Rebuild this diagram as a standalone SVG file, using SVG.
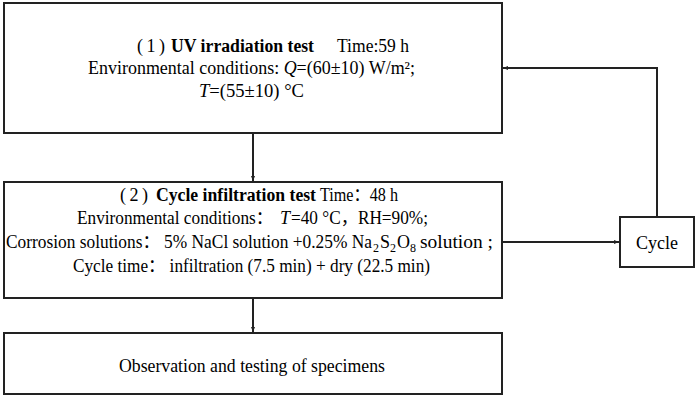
<svg xmlns="http://www.w3.org/2000/svg" width="700" height="399" viewBox="0 0 700 399">
<style>
.box{fill:#fff;stroke:#222;stroke-width:2}
.ln{fill:none;stroke:#222;stroke-width:2}
.t{font-family:"Liberation Serif","Noto Sans CJK SC",serif;font-size:18px;fill:#000}
.b{font-weight:bold}
.i{font-style:italic}
.s{font-size:12px}
</style>
<defs>
<marker id="ah" viewBox="0 0 10 10" refX="10" refY="5" markerWidth="5" markerHeight="5" orient="auto" markerUnits="userSpaceOnUse">
<path d="M0,1 L10,5 L0,9 Z" fill="#222"/>
</marker>
</defs>
<rect width="700" height="399" fill="#fff"/>
<g id="connectors">
<line class="ln" x1="253" y1="133" x2="253" y2="181" marker-end="url(#ah)"/>
<line class="ln" x1="253" y1="298" x2="253" y2="332" marker-end="url(#ah)"/>
<line class="ln" x1="502" y1="242" x2="619" y2="242" marker-end="url(#ah)"/>
<polyline class="ln" points="657,217 657,68 503,68" marker-end="url(#ah)"/>
</g>
<g id="uv">
<rect class="box" x="4" y="3" width="498" height="130"/>
<text class="t" x="137" y="52" textLength="28" lengthAdjust="spacing">(1)</text>
<text class="t b" x="171" y="52" textLength="143" lengthAdjust="spacingAndGlyphs">UV irradiation test</text>
<text class="t" x="337" y="52" textLength="72" lengthAdjust="spacingAndGlyphs">Time:59 h</text>
<text class="t" x="88" y="74" textLength="327" lengthAdjust="spacingAndGlyphs">Environmental conditions: <tspan class="i">Q</tspan>=(60±10) W/m²;</text>
<text class="t" x="199" y="97" textLength="105" lengthAdjust="spacingAndGlyphs"><tspan class="i">T</tspan>=(55±10) °C</text>
</g>
<g id="cycle-infiltration">
<rect class="box" x="4" y="182" width="498" height="116"/>
<text class="t" x="120" y="201" textLength="28" lengthAdjust="spacing">(2)</text>
<text class="t b" x="156" y="201" textLength="160" lengthAdjust="spacingAndGlyphs">Cycle infiltration test</text>
<text class="t" x="320" y="201" textLength="78" lengthAdjust="spacingAndGlyphs">Time：48 h</text>
<text class="t" x="77" y="224" textLength="196" lengthAdjust="spacingAndGlyphs">Environmental conditions：</text>
<text class="t i" x="280" y="224">T</text>
<text class="t" x="291" y="224" textLength="137" lengthAdjust="spacingAndGlyphs">=40 °C，RH=90%;</text>
<text class="t" x="6" y="248" textLength="366" lengthAdjust="spacingAndGlyphs">Corrosion solutions：  5% NaCl solution +0.25% Na</text>
<text class="t s" x="373" y="252">2</text>
<text class="t" x="380" y="248">S</text>
<text class="t s" x="390" y="252">2</text>
<text class="t" x="397" y="248">O</text>
<text class="t s" x="410" y="252">8</text>
<text class="t" x="420" y="248" textLength="73" lengthAdjust="spacingAndGlyphs">solution ;</text>
<text class="t" x="73" y="272" textLength="357" lengthAdjust="spacingAndGlyphs">Cycle time：  infiltration (7.5 min) + dry (22.5 min)</text>
</g>
<g id="observation">
<rect class="box" x="4" y="333" width="498" height="61"/>
<text class="t" x="119" y="372" textLength="266" lengthAdjust="spacingAndGlyphs">Observation and testing of specimens</text>
</g>
<g id="cycle">
<rect class="box" x="620" y="217" width="74" height="50"/>
<text class="t" x="657" y="249" text-anchor="middle">Cycle</text>
</g>
</svg>
